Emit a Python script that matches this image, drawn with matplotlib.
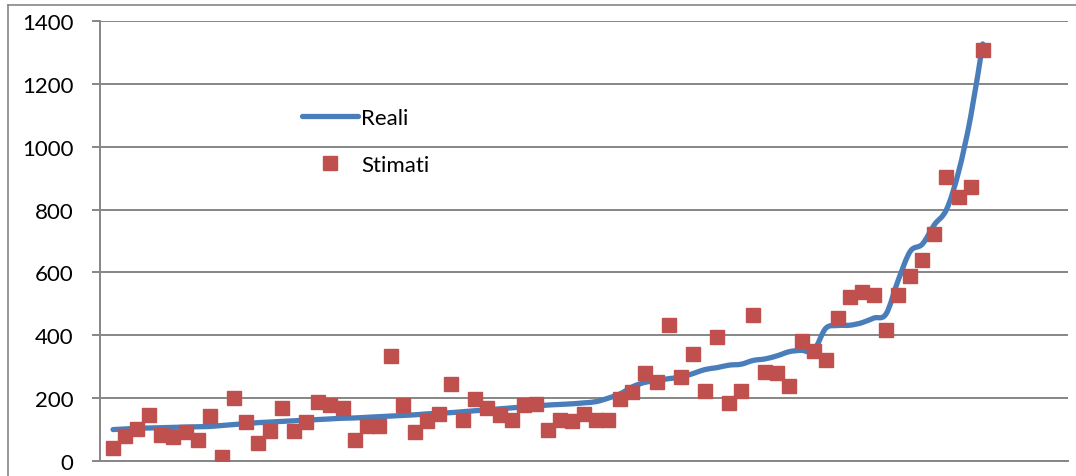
import matplotlib
matplotlib.use('Agg')
import matplotlib.pyplot as plt
from matplotlib.path import Path
from matplotlib.patches import PathPatch
from matplotlib.lines import Line2D
import numpy as np

# Valori reali (linea) e stimati (quadrati)
reali = [100, 102, 104, 105, 106, 107, 108, 109, 110, 113,
         116, 119, 122, 124, 126, 128, 130, 132, 134, 136,
         137, 139, 141, 143, 145, 147, 150, 152, 154, 157,
         160, 163, 166, 169, 172, 175, 178, 180, 182, 185,
         189, 200, 214, 236, 250, 256, 262, 267, 278, 291,
         297, 305, 308, 320, 325, 335, 348, 352, 351, 422,
         431, 432, 440, 455, 468, 575, 667, 690, 752, 800,
         920, 1095, 1327]
stimati = [41, 80, 102, 146, 83, 76, 92, 67, 143, 13,
           200, 124, 57, 95, 169, 95, 124, 188, 178, 169,
           67, 111, 111, 334, 178, 92, 127, 150, 245, 130,
           197, 169, 146, 130, 178, 181, 99, 130, 127, 150,
           130, 130, 196, 218, 280, 251, 433, 267, 340, 223,
           395, 185, 223, 465, 283, 280, 239, 382, 350, 321,
           455, 522, 538, 528, 417, 528, 589, 640, 722, 904,
           840, 872, 1308]
y_ticks = [0, 200, 400, 600, 800, 1000, 1200, 1400]

blue = '#4A7EBB'
red = '#C0504D'
grey = '#868686'

plt.rcParams['font.family'] = ['Lato', 'DejaVu Sans']

fig = plt.figure(figsize=(10.76, 4.77), dpi=100)
ax = fig.add_axes([100 / 1076, 15 / 477, 968 / 1076, 440 / 477])

x = np.arange(len(reali))

# linea smussata come in Excel (Catmull-Rom come Bezier cubica)
pts = np.column_stack([x, reali]).astype(float)
verts = [pts[0]]
codes = [Path.MOVETO]
n = len(pts)
for i in range(n - 1):
    p0 = pts[max(i - 1, 0)]
    p1 = pts[i]
    p2 = pts[i + 1]
    p3 = pts[min(i + 2, n - 1)]
    verts += [p1 + (p2 - p0) / 6, p2 - (p3 - p1) / 6, p2]
    codes += [Path.CURVE4] * 3
ax.add_patch(PathPatch(Path(verts, codes), facecolor='none', edgecolor=blue,
                       lw=3.8, capstyle='round', joinstyle='round', zorder=3))

ax.plot(x, stimati, linestyle='none', marker='s', markersize=10,
        color=red, markeredgecolor=red, zorder=4)

ax.set_xlim(-1.08, 79.06)
ax.set_ylim(0, 1400)
ax.set_yticks(y_ticks)
ax.set_xticks([])
ax.grid(axis='y', color=grey, lw=1.4)
ax.set_axisbelow(True)
for s in ['top', 'right']:
    ax.spines[s].set_visible(False)
for s in ['left', 'bottom']:
    ax.spines[s].set_color(grey)
    ax.spines[s].set_linewidth(1.4)
ax.tick_params(axis='y', length=6, width=1.4, color=grey, pad=13,
               labelsize=16, labelcolor='black')

# legenda
leg_handles = [Line2D([], [], color=blue, lw=3.8, solid_capstyle='round'),
               Line2D([], [], linestyle='none', marker='s', markersize=10, color=red)]
ax.legend(leg_handles, ['Reali', 'Stimati'], loc='upper left',
          bbox_to_anchor=(0.188, 0.848), frameon=False, fontsize=16,
          handlelength=2.5, handletextpad=0.15, labelspacing=1.2)

# bordo del grafico
fig.add_artist(Line2D([8 / 1076, 1], [471 / 477, 471 / 477], color=grey, lw=1.2))
fig.add_artist(Line2D([8 / 1076, 8 / 1076], [0, 471 / 477], color=grey, lw=1.2))

fig.savefig('out.png', dpi=100)
